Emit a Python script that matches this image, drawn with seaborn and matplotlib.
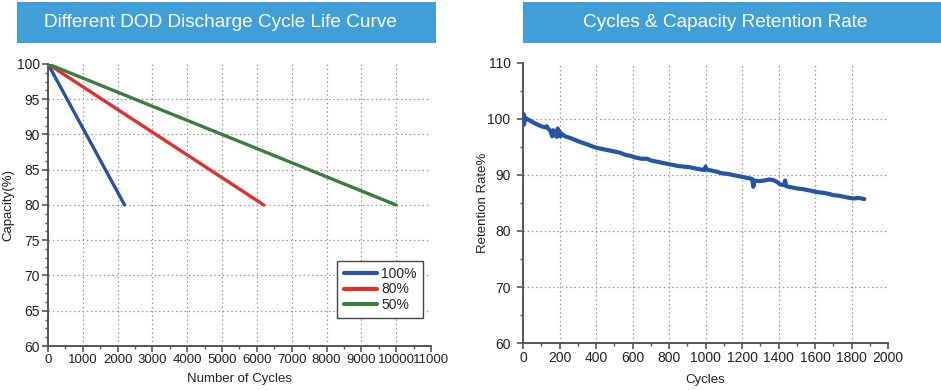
import numpy as np
import pandas as pd
import seaborn as sns
import matplotlib.pyplot as plt
from matplotlib.patches import Rectangle
from matplotlib.ticker import MultipleLocator, AutoMinorLocator

# Left chart: cycle life at different depth of discharge
dod_labels = ["100%", "80%", "50%"]
dod_end_cycles = [2200, 6200, 10000]
start_capacity = 100
end_capacity = 80
dod_colors = ["#2a52a3", "#e0302c", "#3a7d3c"]

# Right chart: measured retention rate
cycles = [0, 3, 6, 10, 20, 40, 60, 80, 100, 120, 130, 140, 150, 160, 165, 170, 180, 185,
          190, 195, 200, 205, 210, 230, 260, 290, 320, 350, 380, 410, 440, 470, 500, 530,
          560, 590, 620, 650, 680, 700, 730, 760, 790, 820, 850, 880, 910, 940, 970, 995,
          1000, 1005, 1030, 1060, 1090, 1120, 1150, 1180, 1210, 1240, 1255, 1262, 1268,
          1290, 1320, 1350, 1370, 1390, 1410, 1430, 1436, 1442, 1470, 1500, 1530, 1560,
          1590, 1620, 1650, 1680, 1700, 1730, 1760, 1790, 1810, 1840, 1870]
retention = [99.2, 100.9, 99.0, 100.3, 100.0, 99.7, 99.3, 99.0, 98.7, 98.5, 98.7, 98.2,
             97.9, 96.9, 98.0, 97.1, 97.6, 96.8, 98.3, 97.2, 97.8, 96.9, 97.4, 96.9, 96.6,
             96.2, 95.8, 95.5, 95.1, 94.8, 94.6, 94.4, 94.2, 94.0, 93.6, 93.4, 93.1, 92.9,
             92.9, 92.6, 92.4, 92.2, 92.0, 91.8, 91.6, 91.5, 91.4, 91.2, 91.0, 90.9, 91.5,
             91.0, 90.8, 90.6, 90.3, 90.2, 90.0, 89.8, 89.6, 89.4, 89.3, 87.9, 89.0, 88.9,
             89.0, 89.2, 89.1, 88.8, 88.3, 88.2, 89.0, 88.0, 87.8, 87.6, 87.5, 87.3, 87.1,
             86.9, 86.8, 86.6, 86.4, 86.3, 86.1, 85.9, 85.8, 85.9, 85.7]

BANNER = "#409fd6"
TEXT = "#222222"
SPINE = "#555555"

sns.set_style("ticks")
plt.rcParams['font.family'] = ['Liberation Sans', 'DejaVu Sans']
plt.rcParams['xtick.labelsize'] = 10
plt.rcParams['ytick.labelsize'] = 10


def style_axis(ax, xlim, ylim, xmajor, ymajor, yminor):
	# Spines, ticks and dotted grid like the original chart
	ax.set_xlim(*xlim)
	ax.set_ylim(*ylim)
	ax.xaxis.set_major_locator(MultipleLocator(xmajor))
	ax.yaxis.set_major_locator(MultipleLocator(ymajor))
	ax.xaxis.set_minor_locator(AutoMinorLocator(2))
	ax.yaxis.set_minor_locator(AutoMinorLocator(yminor))
	sns.despine(ax=ax)
	for side in ["left", "bottom"]:
		ax.spines[side].set_color(SPINE)
		ax.spines[side].set_linewidth(1.4)
	ax.tick_params(which="major", length=4, width=1.2, color=SPINE, labelcolor=TEXT, pad=2)
	ax.tick_params(which="minor", length=2.5, width=1.0, color=SPINE)
	ax.grid(True, which="major", linestyle=(0, (1.2, 2.2)), color="#999999", linewidth=0.9)
	# hide grid lines lying on the axis limits
	fig.canvas.draw()
	for line, val in zip(ax.xaxis.get_gridlines(), ax.get_xticks()):
		if val <= xlim[0] or val >= xlim[1]:
			line.set_visible(False)
	for line, val in zip(ax.yaxis.get_gridlines(), ax.get_yticks()):
		if val <= ylim[0] or val >= ylim[1]:
			line.set_visible(False)


fig = plt.figure(figsize=(9.41, 3.9), dpi=100)
ax1 = fig.add_axes([0.051, 0.1128, 0.407, 0.7232])
ax2 = fig.add_axes([0.5558, 0.1205, 0.3879, 0.718])

# Title banners
for x0, w, title, tx in [(0.018, 0.4453, "Different DOD Discharge Cycle Life Curve", 0.2345),
                         (0.5558, 0.4442, "Cycles & Capacity Retention Rate", 0.7705)]:
	fig.patches.append(Rectangle((x0, 0.8897), w, 0.105, transform=fig.transFigure,
	                             facecolor=BANNER, edgecolor="none", zorder=0))
	fig.text(tx, 0.8897 + 0.0525, title, color="white", fontsize=13.7,
	         ha="center", va="center")

# Left chart
rows = []
for lab, end in zip(dod_labels, dod_end_cycles):
	rows.append({"DOD": lab, "cycles": 0, "capacity": start_capacity})
	rows.append({"DOD": lab, "cycles": end, "capacity": end_capacity})
dod_df = pd.DataFrame(rows)
sns.lineplot(data=dod_df, x="cycles", y="capacity", hue="DOD", hue_order=dod_labels,
             palette=dod_colors, linewidth=2.4, ax=ax1, zorder=3)
style_axis(ax1, (0, 11000), (60, 100), 1000, 5, 4)
ax1.tick_params(axis="x", labelsize=9.5)
ax1.set_xlabel("Number of Cycles", fontsize=9.5, color=TEXT, labelpad=5)
ax1.set_ylabel("Capacity(%)", fontsize=9.5, color=TEXT, va="center")
ax1.yaxis.set_label_coords(-0.104, 0.5)
leg = ax1.legend(loc="lower right", bbox_to_anchor=(0.979, 0.099), fontsize=10,
                 frameon=True, fancybox=False, handlelength=2.4, handletextpad=0.3,
                 borderpad=0.45, labelspacing=0.1, borderaxespad=0)
leg.get_frame().set_edgecolor("#444444")
leg.get_frame().set_linewidth(1.0)
leg.get_frame().set_alpha(1)
for h in leg.get_lines():
	h.set_linewidth(3)

# Right chart
ret_df = pd.DataFrame({"cycles": cycles, "retention": retention})
sns.lineplot(data=ret_df, x="cycles", y="retention", sort=False, color="#2455a4",
             linewidth=3.0, ax=ax2, zorder=3)
style_axis(ax2, (0, 2000), (60, 110), 200, 10, 2)
ax2.tick_params(axis="y", pad=5)
ax2.set_xlabel("Cycles", fontsize=9.5, color=TEXT, labelpad=6)
ax2.set_ylabel("Retention Rate%", fontsize=9.5, color=TEXT, va="center")
ax2.yaxis.set_label_coords(-0.11, 0.5)

fig.savefig("out.png", dpi=100)
